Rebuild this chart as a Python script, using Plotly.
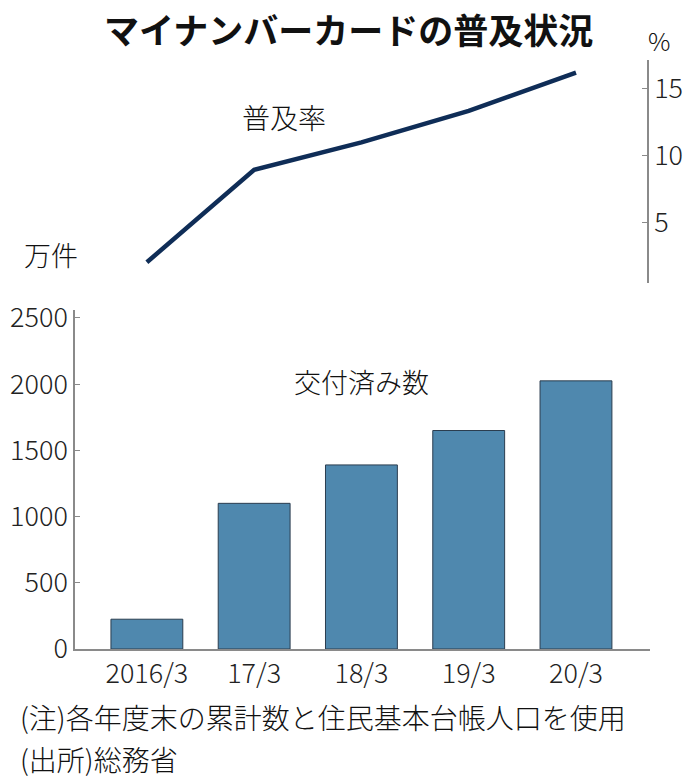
import plotly.graph_objects as go

categories = ["2016/3", "17/3", "18/3", "19/3", "20/3"]
issued = [225, 1100, 1390, 1650, 2025]          # 万件
rate = [2.0, 8.9, 10.95, 13.3, 16.15]            # %
left_ticks = [0, 500, 1000, 1500, 2000, 2500]
right_ticks = [5, 10, 15]

W, H = 696, 783
num_font = "Noto Sans CJK JP"
jp_font = "Noto Sans CJK JP"

def px(x):
    return x / W

def py(y):
    return 1 - y / H

fig = go.Figure()
fig.add_trace(go.Bar(
    x=list(range(len(categories))), y=issued,
    marker=dict(color="#4f88ae", line=dict(color="#2b3d4f", width=1)),
    width=0.67, xaxis="x", yaxis="y", showlegend=False,
))
fig.add_trace(go.Scatter(
    x=list(range(len(categories))), y=rate, mode="lines",
    line=dict(color="#0f2d57", width=4.5),
    xaxis="x", yaxis="y2", showlegend=False,
))

tickfont = dict(family=num_font, size=27, color="#222", weight=300)

fig.update_layout(
    width=W, height=H,
    margin=dict(l=0, r=0, t=0, b=0),
    paper_bgcolor="white", plot_bgcolor="rgba(0,0,0,0)",
    xaxis=dict(
        domain=[px(75), px(650)], range=[-0.67, 4.69],
        tickmode="array", tickvals=list(range(len(categories))), ticktext=categories,
        showgrid=False, zeroline=False, showline=True, linecolor="#8a8a8a", linewidth=2,
        ticks="", tickfont=tickfont,
        anchor="y", automargin=False,
    ),
    yaxis=dict(
        domain=[py(649), py(310)], range=[0, 2560],
        tickmode="array", tickvals=left_ticks,
        showgrid=False, zeroline=False, showline=True, linecolor="#8a8a8a", linewidth=1.5,
        ticks="inside", ticklen=5, tickcolor="#8a8a8a",
        tickfont=tickfont,
        anchor="x", automargin=False,
    ),
    yaxis2=dict(
        domain=[py(283), py(60)], range=[0.45, 17.1],
        tickmode="array", tickvals=right_ticks,
        side="right", anchor="free", position=px(648),
        showgrid=False, zeroline=False, showline=True, linecolor="#8a8a8a", linewidth=1.5,
        ticks="inside", ticklen=5, tickcolor="#8a8a8a",
        tickfont=tickfont,
        automargin=False,
    ),
)

def ann(text, x, y, size, xanchor="left", bold=False, family=jp_font, weight=None):
    font = dict(family=family, size=size, color="#111")
    if weight is not None:
        font["weight"] = weight
    fig.add_annotation(
        text=f"<b>{text}</b>" if bold else text,
        x=px(x), y=py(y), xref="paper", yref="paper",
        xanchor=xanchor, yanchor="middle", showarrow=False,
        font=font,
    )

ann("マイナンバーカードの普及状況", 348, 29, 35, xanchor="center", bold=True)
ann("%", 659, 40, 25, xanchor="center", family=num_font, weight=300)
ann("普及率", 284, 117, 28, xanchor="center", weight=300)
ann("万件", 22, 255, 27, weight=300)
ann("交付済み数", 361, 381, 27, xanchor="center", weight=300)
ann("(注)各年度末の累計数と住民基本台帳人口を使用", 18, 717, 28, weight=300)
ann("(出所)総務省", 18, 759, 28, weight=300)

fig.write_html("out.html")
